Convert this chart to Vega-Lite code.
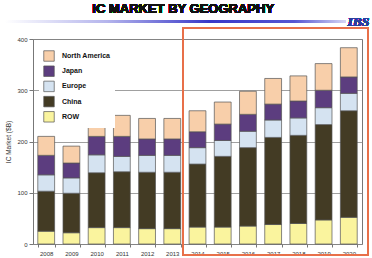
{
  "$schema": "https://vega.github.io/schema/vega-lite/v6.json",
  "width": 329,
  "height": 205,
  "autosize": "none",
  "padding": {"left": 33, "top": 39, "right": 10, "bottom": 14},
  "background": "white",
  "config": {
    "view": {"stroke": "#777777", "strokeWidth": 1},
    "axis": {"labelFont": "Liberation Sans", "titleFont": "Liberation Sans", "labelColor": "#333333", "titleColor": "#333333", "labelFontSize": 6, "titleFontSize": 6.5, "titleFontWeight": "normal", "domainColor": "#777777", "tickColor": "#777777", "gridColor": "#888888", "gridWidth": 0.8}
  },
  "datasets": {
    "market": [
      {"year": "2008", "region": "ROW", "value": 25, "rank": 1},
      {"year": "2008", "region": "China", "value": 78, "rank": 2},
      {"year": "2008", "region": "Europe", "value": 32, "rank": 3},
      {"year": "2008", "region": "Japan", "value": 38, "rank": 4},
      {"year": "2008", "region": "North America", "value": 37, "rank": 5},
      {"year": "2009", "region": "ROW", "value": 22, "rank": 1},
      {"year": "2009", "region": "China", "value": 77, "rank": 2},
      {"year": "2009", "region": "Europe", "value": 30, "rank": 3},
      {"year": "2009", "region": "Japan", "value": 29, "rank": 4},
      {"year": "2009", "region": "North America", "value": 33, "rank": 5},
      {"year": "2010", "region": "ROW", "value": 32, "rank": 1},
      {"year": "2010", "region": "China", "value": 107, "rank": 2},
      {"year": "2010", "region": "Europe", "value": 35, "rank": 3},
      {"year": "2010", "region": "Japan", "value": 36, "rank": 4},
      {"year": "2010", "region": "North America", "value": 41, "rank": 5},
      {"year": "2011", "region": "ROW", "value": 32, "rank": 1},
      {"year": "2011", "region": "China", "value": 109, "rank": 2},
      {"year": "2011", "region": "Europe", "value": 30, "rank": 3},
      {"year": "2011", "region": "Japan", "value": 39, "rank": 4},
      {"year": "2011", "region": "North America", "value": 41, "rank": 5},
      {"year": "2012", "region": "ROW", "value": 30, "rank": 1},
      {"year": "2012", "region": "China", "value": 110, "rank": 2},
      {"year": "2012", "region": "Europe", "value": 33, "rank": 3},
      {"year": "2012", "region": "Japan", "value": 32, "rank": 4},
      {"year": "2012", "region": "North America", "value": 40, "rank": 5},
      {"year": "2013", "region": "ROW", "value": 30, "rank": 1},
      {"year": "2013", "region": "China", "value": 110, "rank": 2},
      {"year": "2013", "region": "Europe", "value": 33, "rank": 3},
      {"year": "2013", "region": "Japan", "value": 32, "rank": 4},
      {"year": "2013", "region": "North America", "value": 40, "rank": 5},
      {"year": "2014", "region": "ROW", "value": 33, "rank": 1},
      {"year": "2014", "region": "China", "value": 123, "rank": 2},
      {"year": "2014", "region": "Europe", "value": 32, "rank": 3},
      {"year": "2014", "region": "Japan", "value": 31, "rank": 4},
      {"year": "2014", "region": "North America", "value": 41, "rank": 5},
      {"year": "2015", "region": "ROW", "value": 33, "rank": 1},
      {"year": "2015", "region": "China", "value": 138, "rank": 2},
      {"year": "2015", "region": "Europe", "value": 31, "rank": 3},
      {"year": "2015", "region": "Japan", "value": 32, "rank": 4},
      {"year": "2015", "region": "North America", "value": 43, "rank": 5},
      {"year": "2016", "region": "ROW", "value": 35, "rank": 1},
      {"year": "2016", "region": "China", "value": 153, "rank": 2},
      {"year": "2016", "region": "Europe", "value": 32, "rank": 3},
      {"year": "2016", "region": "Japan", "value": 33, "rank": 4},
      {"year": "2016", "region": "North America", "value": 45, "rank": 5},
      {"year": "2017", "region": "ROW", "value": 38, "rank": 1},
      {"year": "2017", "region": "China", "value": 170, "rank": 2},
      {"year": "2017", "region": "Europe", "value": 34, "rank": 3},
      {"year": "2017", "region": "Japan", "value": 31, "rank": 4},
      {"year": "2017", "region": "North America", "value": 50, "rank": 5},
      {"year": "2018", "region": "ROW", "value": 40, "rank": 1},
      {"year": "2018", "region": "China", "value": 172, "rank": 2},
      {"year": "2018", "region": "Europe", "value": 34, "rank": 3},
      {"year": "2018", "region": "Japan", "value": 33, "rank": 4},
      {"year": "2018", "region": "North America", "value": 49, "rank": 5},
      {"year": "2019", "region": "ROW", "value": 47, "rank": 1},
      {"year": "2019", "region": "China", "value": 186, "rank": 2},
      {"year": "2019", "region": "Europe", "value": 33, "rank": 3},
      {"year": "2019", "region": "Japan", "value": 34, "rank": 4},
      {"year": "2019", "region": "North America", "value": 52, "rank": 5},
      {"year": "2020", "region": "ROW", "value": 52, "rank": 1},
      {"year": "2020", "region": "China", "value": 208, "rank": 2},
      {"year": "2020", "region": "Europe", "value": 34, "rank": 3},
      {"year": "2020", "region": "Japan", "value": 32, "rank": 4},
      {"year": "2020", "region": "North America", "value": 57, "rank": 5}
    ]
  },
  "data": {"name": "market"},
  "encoding": {
    "x": {"field": "year", "type": "nominal", "scale": {"paddingInner": 0.333, "paddingOuter": 0.19},
      "axis": {"title": null, "labelAngle": 0, "labelPadding": 3, "tickBand": "extent", "tickSize": 3, "domain": false}}
  },
  "layer": [
    {
      "mark": {"type": "bar", "stroke": "#555555", "strokeWidth": 0.7},
      "encoding": {
        "y": {"field": "value", "type": "quantitative", "aggregate": "sum", "stack": "zero",
          "scale": {"domain": [0, 400]},
          "axis": {"title": "IC Market ($B)", "values": [0, 50, 100, 150, 200, 250, 300, 350, 400], "tickSize": 4, "labelPadding": 2, "titlePadding": 5, "domain": false}},
        "color": {"field": "region", "type": "nominal",
          "scale": {"domain": ["North America", "Japan", "Europe", "China", "ROW"], "range": ["#f8cfaa", "#5c3d7f", "#d5e3f1", "#433b24", "#faf49e"]},
          "legend": {"title": null, "orient": "none", "legendX": 6, "legendY": 7, "symbolType": "square", "symbolSize": 110, "symbolStrokeColor": "#555555", "symbolStrokeWidth": 0.7, "symbolOpacity": 1, "labelFont": "Liberation Sans", "labelFontSize": 7, "labelFontWeight": "bold", "labelColor": "#111111", "labelOffset": 7, "rowPadding": 1.2, "fillColor": "white", "padding": 4}},
        "order": {"field": "rank", "type": "quantitative", "sort": "ascending"}
      }
    },
    {
      "mark": {"type": "rect", "fill": {"gradient": "linear", "x1": 0, "x2": 1, "y1": 0, "y2": 0, "stops": [{"offset": 0, "color": "#ffffff"}, {"offset": 0.3, "color": "#b4b4ec"}, {"offset": 0.6, "color": "#3838c8"}, {"offset": 0.85, "color": "#5656d2"}, {"offset": 1, "color": "#d4d4f4"}]}, "clip": false},
      "encoding": {
        "x": {"datum": "2008", "bandPosition": -1.95},
        "x2": {"datum": "2020", "bandPosition": 0.3},
        "y": {"datum": 437},
        "y2": {"datum": 431}
      }
    },
    {
      "mark": {"type": "text", "text": "IC MARKET BY GEOGRAPHY", "font": "Liberation Sans", "fontSize": 13, "fontWeight": "bold", "color": "#111111", "align": "center", "baseline": "middle", "clip": false},
      "encoding": {
        "x": {"datum": "2014", "bandPosition": -0.35},
        "y": {"datum": 458}
      }
    },
    {
      "mark": {"type": "text", "text": "IBS", "font": "Liberation Serif", "fontSize": 13.5, "fontStyle": "italic", "fontWeight": "bold", "color": "#2a3f9e", "align": "center", "baseline": "middle", "clip": false},
      "encoding": {
        "x": {"datum": "2020", "bandPosition": 1.07},
        "y": {"datum": 434}
      }
    },
    {
      "mark": {"type": "rect", "fill": null, "fillOpacity": 0, "stroke": "#e8704a", "strokeWidth": 1.5, "clip": false},
      "encoding": {
        "x": {"datum": "2014", "bandPosition": -0.35},
        "x2": {"datum": "2020", "bandPosition": 1.64},
        "y": {"datum": 421},
        "y2": {"datum": -22}
      }
    }
  ]
}
